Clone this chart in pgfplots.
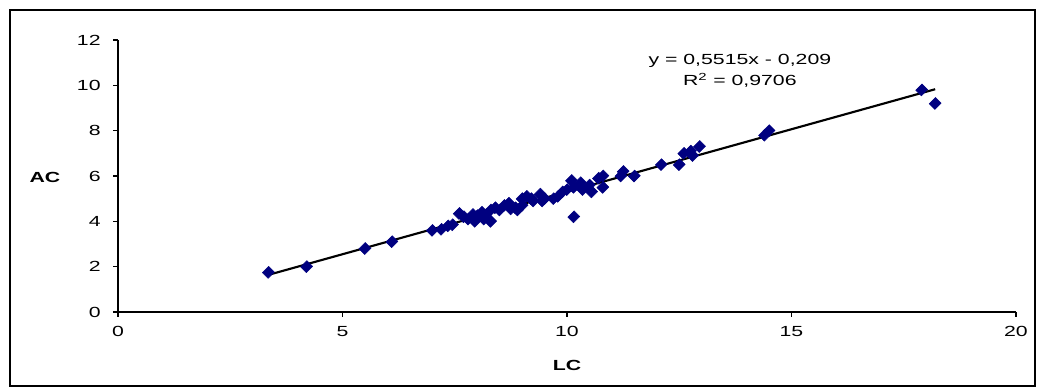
\documentclass[border=0pt]{standalone}
\usepackage{pgfplots}
\pgfplotsset{compat=1.18}
\usepackage{fontspec}
\setmainfont{Liberation Sans}[FakeStretch=1.45]
\definecolor{navymk}{RGB}{0,0,128}
\begin{document}
\begin{tikzpicture}
\path[use as bounding box] (-88.5pt,-58.5pt) rectangle (691.5pt,234pt);
\draw[line width=1.1pt] (-81pt,-55.5pt) rectangle (687.75pt,226.5pt);
\begin{axis}[
  at={(0pt,0pt)}, anchor=south west,
  scale only axis, width=673.5pt, height=204pt,
  xmin=0, xmax=20, ymin=0, ymax=12,
  xtick={0,5,10,15,20}, ytick={0,2,4,6,8,10,12},
  axis x line=bottom, axis y line=left,
  axis line style={-, line width=0.9pt},
  tick style={black, line width=0.9pt},
  tick align=outside, major tick length=3.5pt,
  /pgf/number format/assume math mode=true,
  tick label style={font=\fontsize{11}{13}\selectfont},
  xticklabel style={yshift=-4pt},
  yticklabel style={xshift=-6pt},
  clip=false,
]
\addplot[only marks, mark=square*, mark size=3pt, color=navymk,
  mark options={rotate=45, xscale=1.1, fill=navymk, draw=navymk}] coordinates {
(3.35,1.75) (4.2,2.0) (5.5,2.8) (6.1,3.1) (7.0,3.6) (7.2,3.65) (7.35,3.8)
(7.45,3.85) (7.6,4.35) (7.7,4.2) (7.8,4.1) (7.9,4.3) (7.95,4.0) (8.0,4.25)
(8.1,4.4) (8.15,4.1) (8.2,4.3) (8.3,4.0) (8.3,4.5) (8.4,4.6) (8.5,4.5)
(8.6,4.7) (8.7,4.8) (8.75,4.55) (8.85,4.6) (8.9,4.5) (9.0,4.7) (9.0,5.0)
(9.1,5.1) (9.2,5.0) (9.25,4.9) (9.4,5.2) (9.45,4.9) (9.5,5.0) (9.7,5.0)
(9.8,5.1) (9.9,5.3) (10.0,5.4) (10.1,5.8) (10.15,5.5) (10.15,4.2)
(10.3,5.7) (10.35,5.4) (10.5,5.6) (10.55,5.3) (10.7,5.9) (10.8,6.0)
(10.8,5.5) (11.2,6.0) (11.25,6.2) (11.5,6.0) (12.1,6.5) (12.5,6.5)
(12.6,7.0) (12.75,7.1) (12.8,6.9) (12.95,7.3) (14.4,7.8) (14.5,8.0)
(17.9,9.8) (18.2,9.2)
};
\addplot[black, line width=1.6pt] coordinates {(3.35,1.6385) (18.2,9.8283)};
\node[font=\fontsize{11}{13}\selectfont] at (axis cs:13.85,11.1) {y = 0,5515x - 0,209};
\node[font=\fontsize{11}{13}\selectfont] at (axis cs:13.85,10.23) {R\textsuperscript{2} = 0,9706};
\node[font=\fontsize{11}{13}\selectfont\bfseries] at (axis description cs:0.5,-0.195) {LC};
\node[font=\fontsize{11}{13}\selectfont\bfseries] at (axis description cs:-0.0813,0.496) {AC};
\end{axis}
\end{tikzpicture}
\end{document}
